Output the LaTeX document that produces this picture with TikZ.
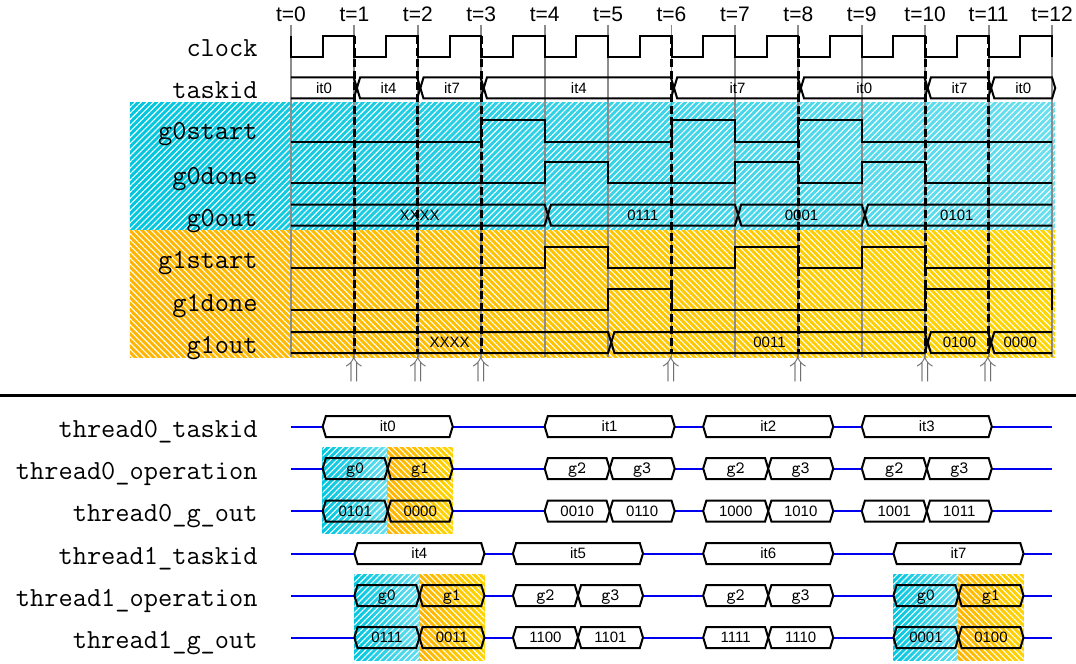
\documentclass[tikz,border=0pt]{standalone}
\usepackage{fontspec}
\setmainfont{Liberation Sans}
\usepackage{tikz}
\usetikzlibrary{patterns.meta}
\definecolor{gzdark}{HTML}{00C6DE}
\definecolor{gzlight}{HTML}{6ADFEF}
\definecolor{godark}{HTML}{FFB400}
\definecolor{golight}{HTML}{FFD500}
\definecolor{gridgray}{HTML}{8C8C8C}
\definecolor{wireblue}{HTML}{0000F0}
\newcommand{\bustip}{0.05}
\newcommand{\bushalf}{10.5}
\newcommand{\opfont}{\ttfamily\fontsize{8.6}{9}\selectfont}
\newcommand{\hexbox}[6][]{%
  \draw[bus,#1] (#3,#5) -- (#3+\bustip,#5-\bushalf) -- (#4-\bustip,#5-\bushalf) -- (#4,#5)
    -- (#4-\bustip,#5+\bushalf) -- (#3+\bustip,#5+\bushalf) -- cycle;
  \node[buslbl] (#2) at ({(#3+#4)/2},#5) {#6};}
\tikzset{
  sig/.style={line width=1pt, line join=miter},
  bus/.style={line width=1pt, line join=miter},
  gridln/.style={draw=gridgray, line width=0.9pt},
  edgeln/.style={line width=1.5pt, dash pattern=on 4pt off 1.8pt},
  wire/.style={draw=wireblue, line width=1pt},
  siglbl/.style={font=\ttfamily\fontsize{13.8}{14}\selectfont, anchor=base east, inner sep=0pt},
  tlbl/.style={font=\fontsize{10.5}{11}\selectfont, anchor=base, inner sep=0pt},
  buslbl/.style={font=\fontsize{7.5}{8}\selectfont, inner sep=0pt, text height=5.4pt, text depth=0pt},
  uparr/.style={text=gridgray!80!black, inner sep=0pt, font=\fontsize{14}{14}\selectfont},
  gzbg/.style={left color=gzdark, right color=gzlight,
               postaction={pattern={Lines[angle=45,distance=2.15pt,line width=0.55pt]}, pattern color=white}},
  gobg/.style={left color=godark, right color=golight,
               postaction={pattern={Lines[angle=-45,distance=2.15pt,line width=0.55pt]}, pattern color=white}}
}
\begin{document}
\begin{tikzpicture}[x=31.71pt, y=-0.5pt]
 \useasboundingbox (-4.588,0) rectangle (12.378,663);
 \path[gzbg] (-2.54,103) rectangle (12.05,230);
 \path[gobg] (-2.54,230) rectangle (12.05,357);

 \foreach \t in {0,...,12}{
  \draw[gridln] (\t,25) -- (\t,357);
  \node[tlbl] (t\t) at (\t,22) {t=\t};
 }
 \foreach \y/\nm in {57/clock,99/taskid,140/g0start,184/g0done,226/g0out,268/g1start,311/g1done,353/g1out}
  \node[siglbl] (l\nm) at (-0.52,\y) {\nm};

 \draw[sig] (0,36) -- (0,57) \foreach \k in {0,...,11}{ -- (\k+0.5,57) -- (\k+0.5,36) -- (\k+1,36) -- (\k+1,57)};
 \draw[sig] (0,142) -- (3,142) -- (3,120) -- (4,120) -- (4,142) -- (6,142) -- (6,120) -- (7,120) -- (7,142)
   -- (8,142) -- (8,120) -- (9,120) -- (9,142) -- (12,142);
 \draw[sig] (0,183) -- (4,183) -- (4,162) -- (5,162) -- (5,183) -- (7,183) -- (7,162) -- (8,162) -- (8,183)
   -- (9,183) -- (9,162) -- (10,162) -- (10,183) -- (12,183);
 \draw[sig] (0,268) -- (4,268) -- (4,247) -- (5,247) -- (5,268) -- (7,268) -- (7,247) -- (8,247) -- (8,268)
   -- (9,268) -- (9,247) -- (10,247) -- (10,268) -- (12,268);
 \draw[sig] (0,310) -- (5,310) -- (5,289) -- (6,289) -- (6,310) -- (10,310) -- (10,289) -- (12,289) -- (12,310);

 % taskid
 \draw[bus] (0,77.5) -- (1.04-\bustip,77.5) -- (1.04,88) -- (1.04-\bustip,98.5) -- (0,98.5);
 \node[buslbl] (task0) at (0.52,88) {it0};
 \foreach \a/\b/\id [count=\n] in {1.04/2.04/it4,2.04/3.04/it7,3.04/6.04/it4,6.04/8.04/it7,8.04/10.04/it0,10.04/11.04/it7,11.04/12.05/it0}{
  \hexbox{task\n}{\a}{\b}{88}{\id}
 }

 % g0out / g1out
 \draw[bus] (0,204.5) -- (4.05-\bustip,204.5) -- (4.05,215) -- (4.05-\bustip,225.5) -- (0,225.5);
 \node[buslbl] (gzout0) at (2.03,215) {XXXX};
 \foreach \a/\b/\v [count=\n] in {4.05/7.05/0111,7.05/9.05/0001}{
  \hexbox{gzout\n}{\a}{\b}{215}{\v}
 }
 \draw[bus] (12,204.5) -- (9.05+\bustip,204.5) -- (9.05,215) -- (9.05+\bustip,225.5) -- (12,225.5);
 \node[buslbl] (gzout3) at (10.5,215) {0101};

 \draw[bus] (0,332) -- (5.05-\bustip,332) -- (5.05,342.5) -- (5.05-\bustip,353) -- (0,353);
 \node[buslbl] (goout0) at (2.5,342.5) {XXXX};
 \foreach \a/\b/\v [count=\n] in {5.05/10.04/0011,10.04/11.04/0100}{
  \hexbox{goout\n}{\a}{\b}{342.5}{\v}
 }
 \draw[bus] (12,332) -- (11.04+\bustip,332) -- (11.04,342.5) -- (11.04+\bustip,353) -- (12,353);
 \node[buslbl] (goout3) at (11.5,342.5) {0000};

 \foreach \t in {1,2,3,6,8,10,11}{
  \draw[edgeln] (\t,36) -- (\t,353);
  \node[uparr] (up\t) at (\t,369) {$\Uparrow$};
 }

 \coordinate (sepl) at (-4.588,395);
 \coordinate (sepr) at (12.378,395);
 \draw[line width=1.5pt] (sepl) -- (sepr);

 % threads
 \foreach \y/\nm/\txt in {426.5/thzask/thread0\_taskid,468.5/thzop/thread0\_operation,511/thzout/thread0\_g\_out,
                          553.5/thoask/thread1\_taskid,595.5/thoop/thread1\_operation,637.5/thoout/thread1\_g\_out}{
  \draw[wire] (0,\y) -- (12,\y);
  \node[siglbl] (\nm) at (-0.52,\y+10.5) {\txt};
 }
 \foreach \s/\ya/\yb in {0.5/447/533,1.0/574/660,9.5/574/660}{
  \path[gzbg] (\s,\ya) rectangle (\s+1.025,\yb);
  \path[gobg] (\s+1.025,\ya) rectangle (\s+2.05,\yb);
 }
 \foreach \s/\id/\opa/\opb/\outa/\outb/\fl [count=\n] in {0.5/it0/g0/g1/0101/0000/none,4.0/it1/g2/g3/0010/0110/white,
        6.5/it2/g2/g3/1000/1010/white,9.0/it3/g2/g3/1001/1011/white}{
  \hexbox[fill=white]{thztask\n}{\s}{\s+2.05}{426.5}{\id}
  \hexbox[fill=\fl]{thzopa\n}{\s}{\s+1.025}{468.5}{\opfont\opa}
  \hexbox[fill=\fl]{thzopb\n}{\s+1.025}{\s+2.05}{468.5}{\opfont\opb}
  \hexbox[fill=\fl]{thzouta\n}{\s}{\s+1.025}{511}{\outa}
  \hexbox[fill=\fl]{thzoutb\n}{\s+1.025}{\s+2.05}{511}{\outb}
 }
 \foreach \s/\id/\opa/\opb/\outa/\outb/\fl [count=\n] in {1.0/it4/g0/g1/0111/0011/none,3.5/it5/g2/g3/1100/1101/white,
        6.5/it6/g2/g3/1111/1110/white,9.5/it7/g0/g1/0001/0100/none}{
  \hexbox[fill=white]{thotask\n}{\s}{\s+2.05}{553.5}{\id}
  \hexbox[fill=\fl]{thoopa\n}{\s}{\s+1.025}{595.5}{\opfont\opa}
  \hexbox[fill=\fl]{thoopb\n}{\s+1.025}{\s+2.05}{595.5}{\opfont\opb}
  \hexbox[fill=\fl]{thoouta\n}{\s}{\s+1.025}{637.5}{\outa}
  \hexbox[fill=\fl]{thooutb\n}{\s+1.025}{\s+2.05}{637.5}{\outb}
 }
\end{tikzpicture}
\end{document}
